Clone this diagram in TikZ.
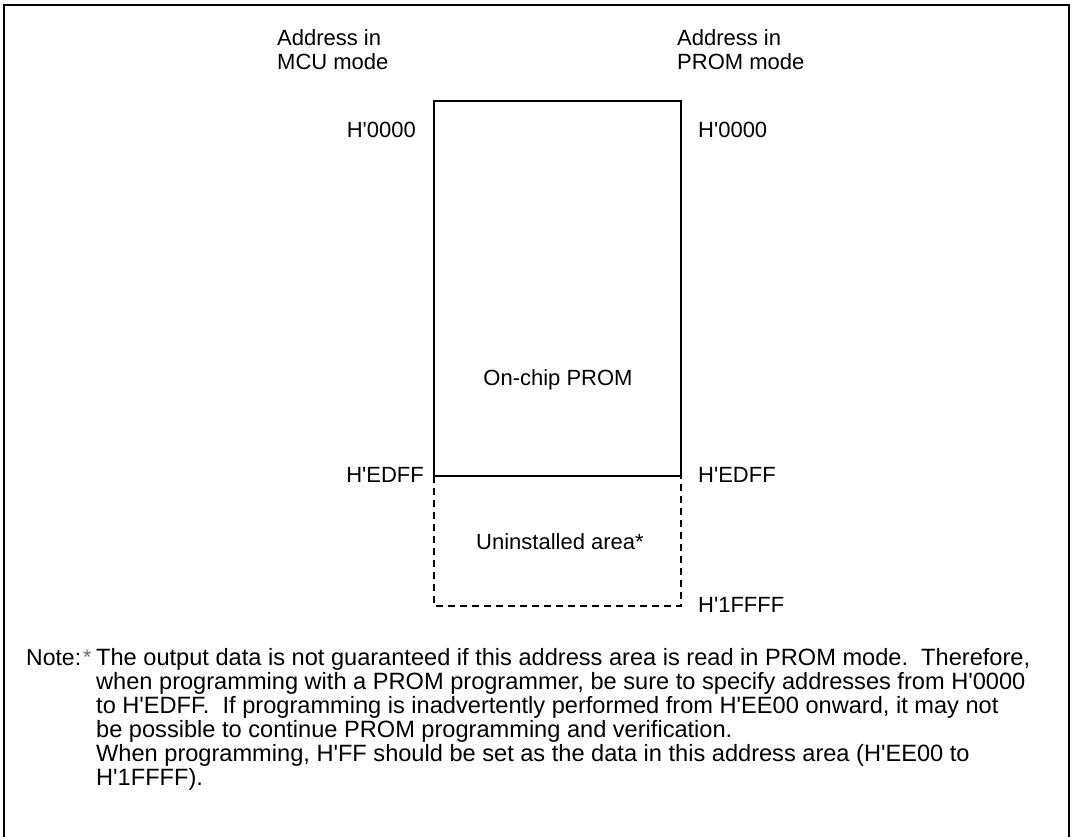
\documentclass[tikz,border=0pt]{standalone}
\usepackage{fontspec}
\setmainfont{Liberation Sans}
\newcommand\qq{\textquotesingle}
\begin{document}
\begin{tikzpicture}[x=1pt,y=-1pt,
  lbl/.style={inner sep=0pt,font=\fontsize{22}{24}\selectfont},
  nt/.style={inner sep=0pt,anchor=base west,font=\fontsize{23.6}{24}\selectfont},
  frameline/.style={line width=2pt},
  boxline/.style={line width=2pt},
  dashline/.style={line width=2pt,dash pattern=on 7pt off 5pt}]
\useasboundingbox (0,0) rectangle (1073,836);
% outer frame (open at bottom)
\draw[frameline] (4,840) -- (4,5) -- (1069,5) -- (1069,840);
% coordinates of the memory map
\coordinate (tl) at (434,101);
\coordinate (tr) at (681,101);
\coordinate (ml) at (434,476);
\coordinate (mr) at (681,476);
\coordinate (bl) at (434,606);
\coordinate (br) at (681,606);
% PROM area
\draw[boxline] (ml) -- (tl) -- (tr) -- (mr) -- cycle;
% uninstalled area
\draw[dashline] (ml) -- (bl) -- (br) -- (mr);
% headers
\node[lbl,anchor=base west] (mcu1) at (277,45) {Address in};
\node[lbl,anchor=base west] (mcu2) at (277,69) {MCU mode};
\node[lbl,anchor=base west] (prm1) at (677,45) {Address in};
\node[lbl,anchor=base west] (prm2) at (677,69) {PROM mode};
% addresses
\node[lbl,anchor=base east] (a0l) at (416,137) {H\qq0000};
\node[lbl,anchor=base west] (a0r) at (698,137) {H\qq0000};
\node[lbl,anchor=base east] (ael) at (424,482) {H\qq EDFF};
\node[lbl,anchor=base west] (aer) at (698,482) {H\qq EDFF};
\node[lbl,anchor=base west] (a1r) at (698,612) {H\qq1FFFF};
% area labels
\node[lbl,anchor=base] (prom) at (558,385) {On-chip PROM};
\node[lbl,anchor=base] (unin) at (560,549) {Uninstalled area*};
% note
\node[nt,font=\fontsize{23}{24}\selectfont] (note) at (26,665) {Note:};
\node[nt,text=black!60,font=\fontsize{21}{24}\selectfont] (star) at (83,664) {*};
\node[nt] (n1) at (96,665) {The output data is not guaranteed if this address area is read in PROM mode.\ \ Therefore,};
\node[nt] (n2) at (96,689) {when programming with a PROM programmer, be sure to specify addresses from H\qq0000};
\node[nt] (n3) at (96,713) {to H\qq EDFF.\ \ If programming is inadvertently performed from H\qq EE00 onward, it may not};
\node[nt] (n4) at (96,737) {be possible to continue PROM programming and verification.};
\node[nt] (n5) at (96,761) {When programming, H\qq FF should be set as the data in this address area (H\qq EE00 to};
\node[nt] (n6) at (96,785) {H\qq1FFFF).};
\end{tikzpicture}
\end{document}
